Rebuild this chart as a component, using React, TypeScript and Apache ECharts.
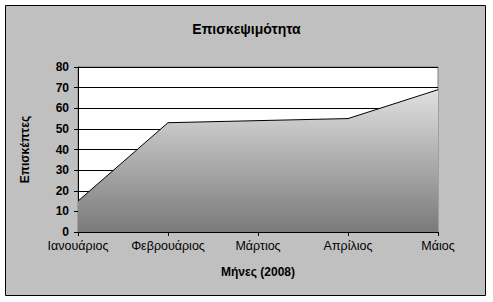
import React, { useEffect, useRef } from "react";
import * as echarts from "echarts";

const categories = ["Ιανουάριος", "Φεβρουάριος", "Μάρτιος", "Απρίλιος", "Μάιος"];
const visitors = [15, 53, 54, 55, 69];
const titleText = "Επισκεψιμότητα";
const yName = "Επισκέπτες";
const xName = "Μήνες (2008)";

export default function App() {
  const ref = useRef<HTMLDivElement>(null);
  useEffect(() => {
    const chart = echarts.init(ref.current!, null, { renderer: "svg" });
    const font = "Arial, 'Liberation Sans', sans-serif";
    chart.setOption({
      animation: false,
      backgroundColor: "#ffffff",
      graphic: [
        {
          type: "rect",
          z: -10,
          silent: true,
          shape: { x: 5.5, y: 5.5, width: 480, height: 290 },
          style: { fill: "#c0c0c0", stroke: "#000000", lineWidth: 1 },
        },
      ],
      title: {
        text: titleText,
        left: "center",
        top: 17,
        textStyle: { fontFamily: font, fontSize: 14, fontWeight: "bold", color: "#000" },
      },
      grid: {
        left: 78,
        right: 55,
        top: 67,
        bottom: 70,
        show: true,
        backgroundColor: "#ffffff",
        borderColor: "#808080",
        borderWidth: 1,
      },
      xAxis: {
        type: "category",
        data: categories,
        boundaryGap: false,
        name: xName,
        nameLocation: "middle",
        nameGap: 34,
        nameTextStyle: { fontFamily: font, fontSize: 12, fontWeight: "bold", color: "#000" },
        axisLine: { lineStyle: { color: "#000", width: 1 } },
        axisTick: { show: true, length: 4, alignWithLabel: true, lineStyle: { color: "#000" } },
        axisLabel: { fontFamily: font, fontSize: 12.5, color: "#000", margin: 7, interval: 0 },
        splitLine: { show: false },
        z: 10,
      },
      yAxis: {
        type: "value",
        min: 0,
        max: 80,
        interval: 10,
        name: yName,
        nameLocation: "middle",
        nameGap: 47,
        nameRotate: 90,
        nameTextStyle: { fontFamily: font, fontSize: 12, fontWeight: "bold", color: "#000" },
        axisLine: { show: true, lineStyle: { color: "#000", width: 1 } },
        axisTick: { show: true, length: 4, lineStyle: { color: "#000" } },
        axisLabel: { fontFamily: font, fontSize: 12, fontWeight: "bold", color: "#000", margin: 9 },
        splitLine: { show: true, lineStyle: { color: "#000", width: 1 } },
      },
      series: [
        {
          type: "line",
          data: visitors,
          symbol: "none",
          lineStyle: { color: "#000", width: 1 },
          areaStyle: {
            opacity: 1,
            color: new echarts.graphic.LinearGradient(0, 0, 0, 1, [
              { offset: 0, color: "#e0e0e0" },
              { offset: 1, color: "#7a7a7a" },
            ]),
          },
          z: 3,
        },
      ],
    });
    return () => chart.dispose();
  }, []);
  return (
    <div
      ref={ref}
      style={{ position: "fixed", left: 0, top: 0, width: 493, height: 302 }}
    />
  );
}
